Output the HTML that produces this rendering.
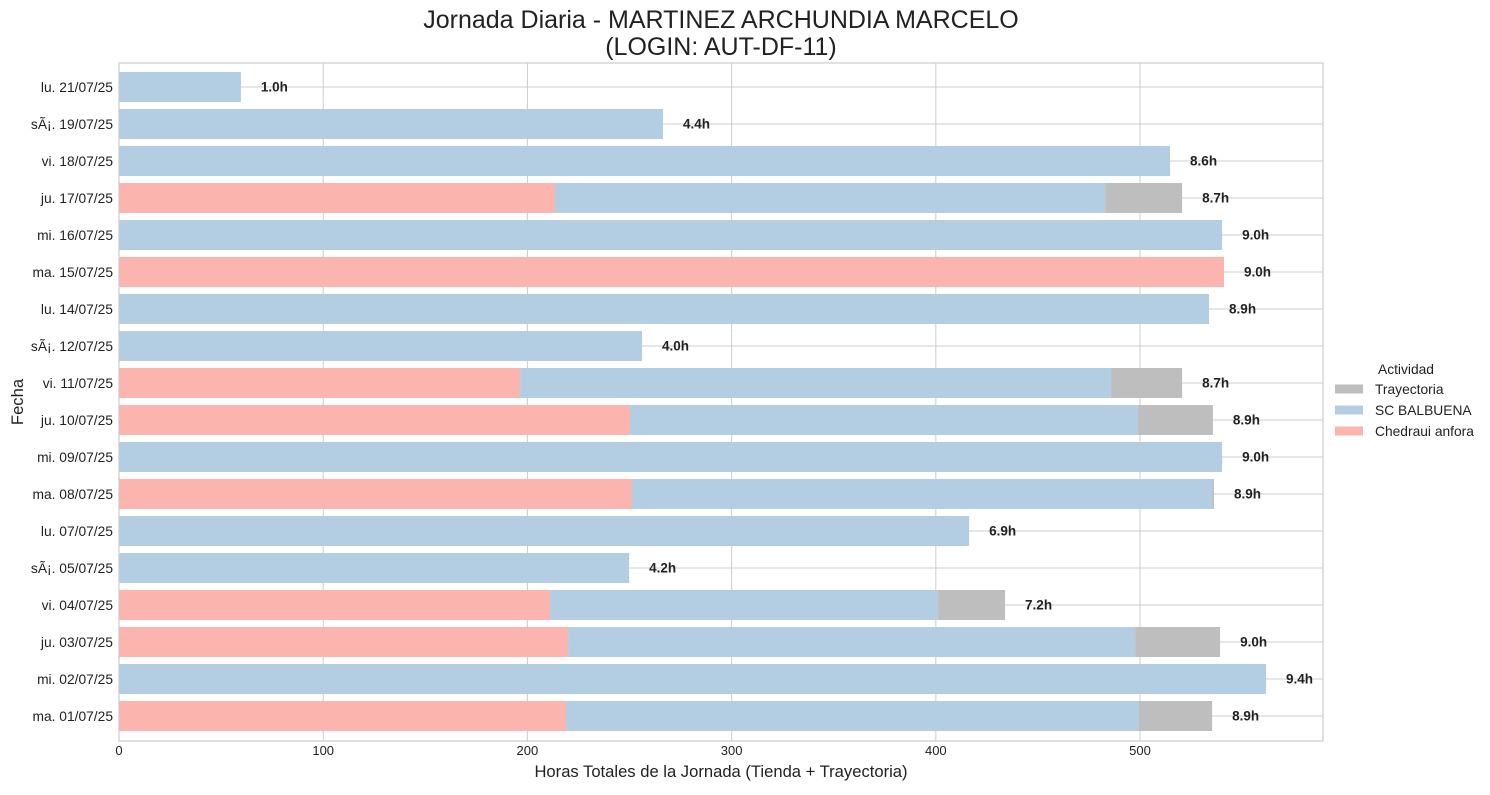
<!DOCTYPE html>
<html><head><meta charset="utf-8"><style>
body{margin:0;background:#fff;font-family:"Liberation Sans","DejaVu Sans",sans-serif;}
</style></head><body>
<svg id="c" width="1490" height="790" xmlns="http://www.w3.org/2000/svg" font-family="Liberation Sans, DejaVu Sans, sans-serif"></svg>
<script>
const dates=["lu. 21/07/25","sÃ¡. 19/07/25","vi. 18/07/25","ju. 17/07/25","mi. 16/07/25","ma. 15/07/25","lu. 14/07/25","sÃ¡. 12/07/25","vi. 11/07/25","ju. 10/07/25","mi. 09/07/25","ma. 08/07/25","lu. 07/07/25","sÃ¡. 05/07/25","vi. 04/07/25","ju. 03/07/25","mi. 02/07/25","ma. 01/07/25"];
const chedraui=[0,0,0,213.5,0,541.1,0,0,196.4,250.2,0,251.2,0,0,211.1,219.9,0,218.9];
const balbuena=[59.7,266.4,514.7,269.4,540.2,0,533.8,256.1,289.4,248.8,540.2,284.1,416.3,249.8,190.0,277.7,561.7,280.6];
const trayectoria=[0,0,0,37.7,0,0,0,0,34.8,36.7,0,0.9,0,0,32.8,41.6,0,35.8];
const totalLabels=["1.0h","4.4h","8.6h","8.7h","9.0h","9.0h","8.9h","4.0h","8.7h","8.9h","9.0h","8.9h","6.9h","4.2h","7.2h","9.0h","9.4h","8.9h"];
const xTicks=[0,100,200,300,400,500];

const svg=document.getElementById('c');
const NS="http://www.w3.org/2000/svg";
const L=119,R=1323,T=63,B=741,XMAX=589.6;
const x=v=>L+v*(R-L)/XMAX;
const rowY=i=>87+i*(716-87)/(dates.length-1);
const BH=30;
function el(t,a,p){const e=document.createElementNS(NS,t);for(const k in a)e.setAttribute(k,a[k]);(p||svg).appendChild(e);return e;}
function txt(s,a){const e=el('text',a);e.textContent=s;return e;}

xTicks.forEach(v=>{
 const g=el('line',{x1:x(v),x2:x(v),y1:T,y2:B,stroke:'#cccccc','stroke-width':1});
 
 
 const t=txt(v,{x:x(v),y:B+14,'text-anchor':'middle','font-size':13,fill:'#222'});
 
 
});
dates.forEach((d,i)=>{
 const g=el('line',{x1:L,x2:R,y1:rowY(i),y2:rowY(i),stroke:'#cccccc','stroke-width':1});
 
 
});
dates.forEach((d,i)=>{
 const y=rowY(i)-BH/2;
 let acc=0;
 [[chedraui,'#fbb4ae','bar-chedraui'],[balbuena,'#b3cde3','bar-balbuena'],[trayectoria,'#bebebe','bar-trayectoria']].forEach(([arr,c,n])=>{
  const v=arr[i];
  if(v>0){
   const r=el('rect',{x:x(acc),y:y,width:x(acc+v)-x(acc),height:BH,fill:c});
   
   
  }
  acc+=v;
 });
 const lb=txt(totalLabels[i],{x:x(acc)+20,y:rowY(i)+4.5,'font-size':13.5,'font-weight':'bold',fill:'#222'});
 
 
 const yl=txt(d,{x:L-6,y:rowY(i)+5,'text-anchor':'end','font-size':13.8,fill:'#222'});
 
 
});
const fr=el('rect',{x:L,y:T,width:R-L,height:B-T,fill:'none',stroke:'#cccccc','stroke-width':1.2});


let t1=txt('Jornada Diaria - MARTINEZ ARCHUNDIA MARCELO',{x:721,y:28,'text-anchor':'middle','font-size':25,fill:'#222'});


let t2=txt('(LOGIN: AUT-DF-11)',{x:721,y:55,'text-anchor':'middle','font-size':25,fill:'#222'});


let xt=txt('Horas Totales de la Jornada (Tienda + Trayectoria)',{x:721,y:777,'text-anchor':'middle','font-size':16.6,fill:'#222'});


let yt=txt('Fecha',{x:0,y:0,'text-anchor':'middle','font-size':16.6,fill:'#222',transform:'translate(23,402) rotate(-90)'});


let lt=txt('Actividad',{x:1406,y:374,'text-anchor':'middle','font-size':13.8,fill:'#222'});


[['Trayectoria','#bebebe'],['SC BALBUENA','#b3cde3'],['Chedraui anfora','#fbb4ae']].forEach(([n,c],k)=>{
 const yy=389+k*21;
 const s=el('rect',{x:1335,y:yy-4.5,width:28,height:9,fill:c});
 
 
 const e=txt(n,{x:1375,y:yy+5,'font-size':13.8,fill:'#222'});
 
 
});
</script>
</body></html>
